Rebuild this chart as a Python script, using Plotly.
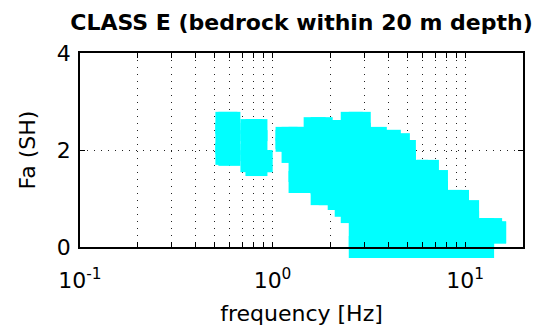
import math
import plotly.graph_objects as go

# --- data ---
freq_hz = [0.576, 0.597, 0.777, 0.825, 0.876,
           1.183, 1.271, 1.382, 1.655, 1.800, 1.981, 2.207, 2.400, 2.579, 2.839,
           3.440, 4.068, 4.532, 4.870, 5.623, 6.416, 7.147, 8.454, 9.194, 10.37,
           12.41, 13.66, 14.33]
fa_upper = [2.56, 2.56, 2.41, 2.41, 1.77,
            2.25, 2.25, 2.25, 2.45, 2.45, 2.39, 2.39, 2.39, 2.56, 2.56,
            2.25, 2.19, 2.12, 1.98, 1.57, 1.57, 1.36, 0.95, 0.95, 0.74,
            0.37, 0.37, 0.30]
fa_lower = [1.92, 1.90, 1.77, 1.69, 1.77,
            2.19, 1.96, 1.34, 1.34, 1.09, 1.09, 0.99, 0.85, 0.72, 0.0,
            0.0, 0.0, 0.0, 0.0, 0.0, 0.0, 0.0, 0.0, 0.0, 0.0,
            0.0, 0.31, 0.30]

x_tick_vals = [0.1, 1, 10]
x_tick_text = ["10<sup>-1</sup>", "10<sup>0</sup>", "10<sup>1</sup>"]
x_minor_vals = [0.2, 0.3, 0.4, 0.5, 0.6, 0.7, 0.8, 0.9,
                2, 3, 4, 5, 6, 7, 8, 9]
y_tick_vals = [0, 2, 4]
y_tick_text = ["0", "2", "4"]

CYAN = "#00FFFF"
FONT = "DejaVu Sans"
GRID = dict(gridcolor="#222222", gridwidth=1, griddash="1px,6px")

xs, ys = [], []
for f, lo, hi in zip(freq_hz, fa_lower, fa_upper):
    xs += [f, f, None]
    ys += [lo, hi, None]

fig = go.Figure(go.Scatter(
    x=xs, y=ys, mode="lines+markers",
    line=dict(color=CYAN, width=22),
    marker=dict(symbol="square", size=22, color=CYAN, line=dict(width=0)),
    cliponaxis=False, hoverinfo="skip", showlegend=False,
))

axis_common = dict(
    ticks="inside", ticklen=5, tickwidth=1, tickcolor="black",
    showline=True, linecolor="black", linewidth=1.5, mirror="allticks",
    showgrid=True, zeroline=False, layer="above traces", automargin=False,
    tickfont=dict(family=FONT, size=22, color="black"),
    **GRID,
)

fig.update_layout(
    width=535, height=328,
    margin=dict(l=80, r=12, t=53, b=81, autoexpand=False),
    paper_bgcolor="white", plot_bgcolor="white",
    title=dict(text="<b>CLASS E (bedrock within 20 m depth)</b>",
               font=dict(family=FONT, size=22, color="black"),
               x=0.5, xref="paper", xanchor="center",
               y=1 - 22 / 328, yref="container", yanchor="middle"),
    xaxis=dict(type="log", range=[-1, math.log10(20)],
               tickmode="array", tickvals=x_tick_vals, ticktext=x_tick_text,
               ticklabelstandoff=13,
               minor=dict(tickmode="array", tickvals=x_minor_vals,
                          ticks="inside", ticklen=5, tickcolor="black",
                          showgrid=True, **GRID),
               title=dict(text="frequency [Hz]", font=dict(family=FONT, size=22, color="black"),
                          standoff=13),
               **axis_common),
    yaxis=dict(range=[0, 4], tickmode="array", tickvals=y_tick_vals, ticktext=y_tick_text,
               ticklabelstandoff=3,
               title=dict(text="Fa (SH)", font=dict(family=FONT, size=22, color="black"),
                          standoff=15),
               **axis_common),
)

fig.write_html("out.html")
